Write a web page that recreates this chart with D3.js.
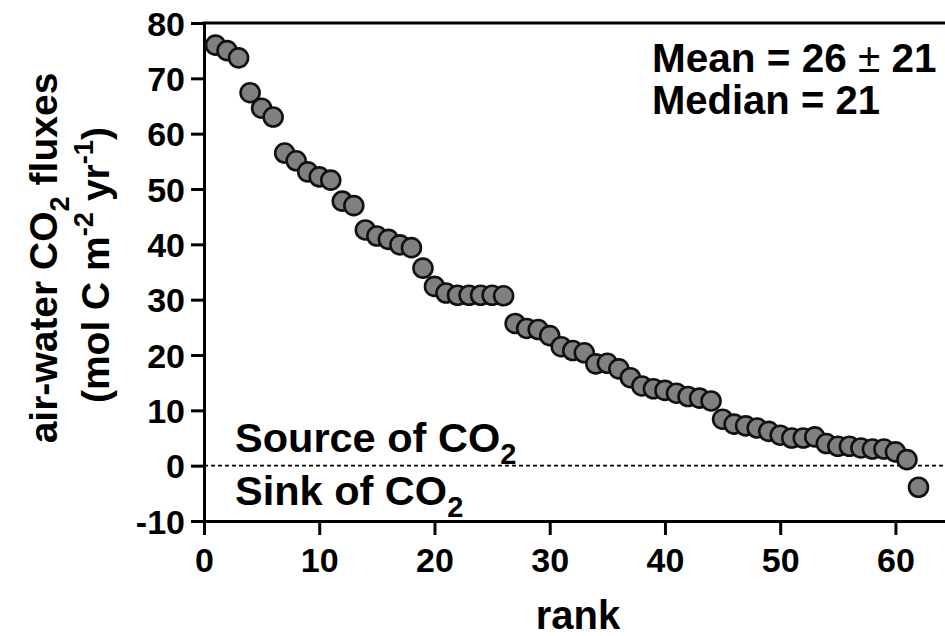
<!DOCTYPE html>
<html>
<head>
<meta charset="utf-8">
<script src="https://cdn.jsdelivr.net/npm/d3@7"></script>
<style>
  html, body { margin: 0; padding: 0; background: #fff; }
  svg { display: block; font-family: "Liberation Sans", Arial, sans-serif; font-weight: bold; }
</style>
</head>
<body>
<svg id="chart" width="945" height="636"></svg>
<script>
// Ranked air-water CO2 fluxes (mol C m-2 yr-1), highest first
const ranks = d3.range(1, 63);
const fluxes = [
  76.0, 75.0, 73.7, 67.4, 64.6, 63.0, 56.5, 55.1, 53.1, 52.2,
  51.6, 47.8, 47.0, 42.6, 41.5, 40.9, 39.9, 39.4, 35.7, 32.4,
  31.2, 30.8, 30.8, 30.8, 30.8, 30.7, 25.7, 24.8, 24.6, 23.5,
  21.5, 20.8, 20.4, 18.4, 18.5, 17.5, 15.9, 14.4, 13.9, 13.6,
  13.1, 12.5, 12.2, 11.7, 8.4, 7.5, 7.2, 6.8, 6.2, 5.5,
  5.0, 5.0, 5.2, 4.0, 3.5, 3.5, 3.2, 3.0, 3.0, 2.5,
  1.1, -3.9
];
const xTicks = [0, 10, 20, 30, 40, 50, 60];
const yTicks = [-10, 0, 10, 20, 30, 40, 50, 60, 70, 80];
const meanFlux = 26, sdFlux = 21, medianFlux = 21;

const svg = d3.select("#chart");
const W = 945;

const x = d3.scaleLinear().domain([0, 64.3]).range([204, W]);
const y = d3.scaleLinear().domain([-10, 80]).range([521, 23]);

// zero line separating sources and sinks
svg.append("line")
  .attr("x1", x(0)).attr("x2", W)
  .attr("y1", y(0)).attr("y2", y(0))
  .attr("stroke", "#000").attr("stroke-width", 1.8)
  .attr("stroke-dasharray", "4,3");

// top frame line
svg.append("line")
  .attr("x1", x(0) - 1.5).attr("x2", W)
  .attr("y1", y(80)).attr("y2", y(80))
  .attr("stroke", "#000").attr("stroke-width", 3);

// y axis
const gy = svg.append("g")
  .attr("transform", `translate(${x(0)},0)`)
  .call(d3.axisLeft(y).tickValues(yTicks).tickSize(13).tickSizeOuter(0).tickPadding(6).tickFormat(d => String(d)));
gy.select(".domain").attr("stroke-width", 3);
gy.selectAll(".tick line").attr("stroke-width", 3);
gy.selectAll(".tick text")
  .attr("font-size", 34).attr("font-family", null)
  .attr("dy", "0.36em")
  .attr("fill", "#000");

// x axis
const gx = svg.append("g")
  .attr("transform", `translate(0,${y(-10)})`)
  .call(d3.axisBottom(x).tickValues(xTicks).tickSize(14).tickSizeOuter(0).tickPadding(13).tickFormat(d => String(d)));
gx.select(".domain").attr("stroke-width", 3);
gx.selectAll(".tick line").attr("stroke-width", 3);
gx.selectAll(".tick text")
  .attr("font-size", 34).attr("font-family", null)
  .attr("fill", "#000");
svg.selectAll(".domain").attr("stroke-linecap", "square");

// data points
svg.append("g")
  .selectAll("circle")
  .data(ranks.map((r, i) => ({ rank: r, flux: fluxes[i] })))
  .join("circle")
  .attr("cx", d => x(d.rank))
  .attr("cy", d => y(d.flux))
  .attr("r", 9.5)
  .attr("fill", "#808080")
  .attr("stroke", "#111")
  .attr("stroke-width", 2.6);

// bold label, optionally rotated; parts = [[text, "sub"|"sup"|null], ...]
function label(px, py, size, anchor, rot, parts) {
  const t = svg.append("text")
    .attr("transform", `translate(${px},${py}) rotate(${rot || 0})`)
    .attr("font-size", size)
    .attr("text-anchor", anchor)
    .attr("fill", "#000");
  let shift = 0;
  parts.forEach(([s, kind]) => {
    const target = kind === "sub" ? 0.3 * size : kind === "sup" ? -0.42 * size : 0;
    const sp = t.append("tspan").attr("dy", target - shift).text(s);
    if (kind) sp.attr("font-size", size * 0.7);
    shift = target;
  });
  return t;
}

// source / sink annotations
label(235, 452, 41.5, "start", 0, [["Source of CO"], ["2", "sub"]]);
label(235, 505, 41.5, "start", 0, [["Sink of CO"], ["2", "sub"]]);

// summary statistics
const m = label(652, 72, 40.5, "start", 0, [[`Mean = ${meanFlux} `]]);
m.append("tspan").attr("font-weight", "normal").text("\u00B1");
m.append("tspan").text(` ${sdFlux}`);
label(652, 114, 40, "start", 0, [[`Median = ${medianFlux}`]]);

// axis titles
label(578, 629, 40, "middle", 0, [["rank"]]);
label(57, 258, 39, "middle", -90, [["air-water CO"], ["2", "sub"], [" fluxes"]]);
label(109, 265, 39, "middle", -90,
  [["(mol C m"], ["-2", "sup"], [" yr"], ["-1", "sup"], [")"]]);
</script>
</body>
</html>
